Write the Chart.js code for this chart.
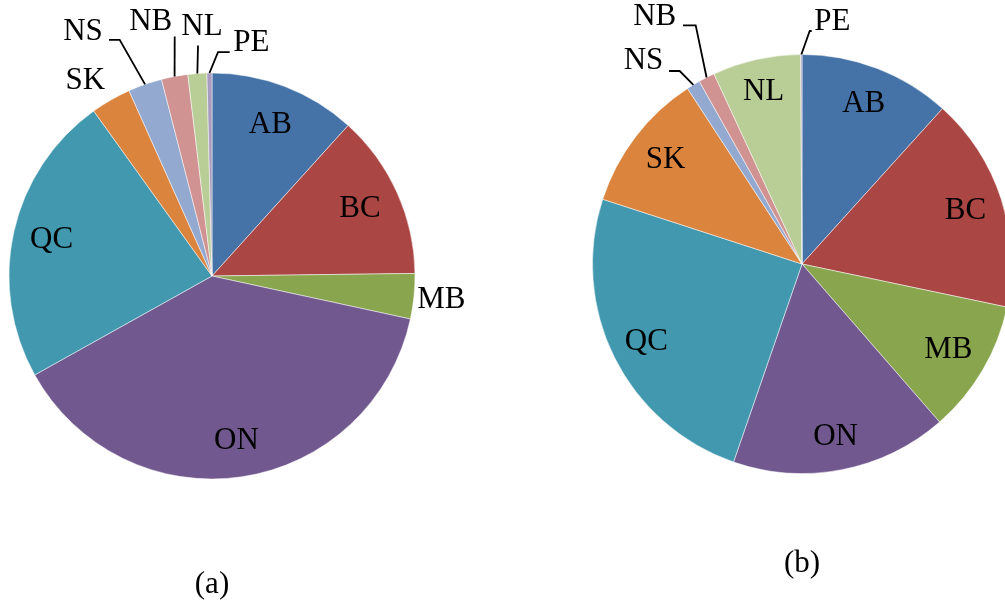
<!DOCTYPE html>
<html>
<head>
<meta charset="utf-8">
<script src="https://cdn.jsdelivr.net/npm/chart.js@4.4.1/dist/chart.umd.min.js"></script>
<style>
  html, body { margin: 0; padding: 0; background: #ffffff; overflow: hidden; width: 1005px; height: 600px; }
  .pie { position: absolute; top: 0; }
  #wrapA { left: 0; width: 500px; height: 600px; }
  #wrapB { left: 500px; width: 604px; height: 600px; }
</style>
</head>
<body>
<div id="wrapA" class="pie"><canvas id="pieA" width="500" height="600"></canvas></div>
<div id="wrapB" class="pie"><canvas id="pieB" width="604" height="600"></canvas></div>
<script>
// Provinces, in slice order (clockwise from 12 o'clock)
const provinces = ['AB', 'BC', 'MB', 'ON', 'QC', 'SK', 'NS', 'NB', 'NL', 'PE'];

// Share of each province (%), panel (a)
const sharesA = [11.7, 13.1, 3.6, 38.5, 23.2, 3.2, 2.7, 2.1, 1.5, 0.4];

// Share of each province (%), panel (b)
const sharesB = [11.7, 16.6, 10.3, 16.7, 24.7, 10.8, 1.05, 1.25, 6.8, 0.1];

// Panel captions
const captions = ['(a)', '(b)'];

const sliceColors = ['#4572A7', '#AA4643', '#89A54E', '#71588F', '#4198AF',
                     '#DB843D', '#93A9CF', '#D19392', '#B9CD96', '#A99BBD'];

const labelFont = '31px "Liberation Serif", "Times New Roman", serif';

// Label placement: 'in' labels sit on the slice bisector at k * radius;
// the others are offset from the pie centre, optionally with a leader line
// whose last point is the slice's outer edge at its bisector.
const labelLayoutA = {
  AB: { k: 0.80 }, BC: { k: 0.80 }, ON: { k: 0.82 }, QC: { k: 0.81 },
  MB: { dx: 229.4, dy: 23.8 },
  SK: { dx: -126.6, dy: -195.5 },
  NS: { dx: -129, dy: -243.8, leader: [[-103, -236.2], [-92.3, -236.2]] },
  NB: { dx: -61.3, dy: -253.8, leader: [[-37.3, -239.5]] },
  NL: { dx: -10, dy: -248.8, leader: [[-14, -230.5]] },
  PE: { dx: 39.4, dy: -232.8, leader: [[17.7, -223.8], [6, -223.8]] }
};
const labelLayoutB = {
  AB: { k: 0.82 }, BC: { k: 0.82 }, MB: { k: 0.81 }, ON: { k: 0.84 },
  QC: { k: 0.83 }, SK: { k: 0.82 }, NL: { k: 0.84 },
  NS: { dx: -158.5, dy: -203.4, leader: [[-133, -193], [-122.3, -193]] },
  NB: { dx: -147.3, dy: -247, leader: [[-119, -238.7], [-106.3, -238.7]] },
  PE: { dx: 30.4, dy: -242, leader: [[9.7, -233], [7.7, -233]] }
};

const sliceLabels = {
  id: 'sliceLabels',
  afterDatasetsDraw(chart, args, opts) {
    const ctx = chart.ctx;
    const meta = chart.getDatasetMeta(0);
    const labels = chart.data.labels;
    ctx.save();
    ctx.font = labelFont;
    ctx.fillStyle = '#000000';
    ctx.textAlign = 'center';
    ctx.textBaseline = 'middle';
    ctx.strokeStyle = '#000000';
    ctx.lineWidth = 1.8;
    meta.data.forEach((arc, i) => {
      const p = arc.getProps(['x', 'y', 'startAngle', 'endAngle', 'outerRadius'], true);
      const mid = (p.startAngle + p.endAngle) / 2;
      const lay = opts.layout[labels[i]];
      if (!lay) return;
      let tx, ty;
      if (lay.k !== undefined) {
        tx = p.x + Math.cos(mid) * p.outerRadius * lay.k;
        ty = p.y + Math.sin(mid) * p.outerRadius * lay.k;
      } else {
        tx = p.x + lay.dx;
        ty = p.y + lay.dy;
      }
      if (lay.leader) {
        ctx.beginPath();
        lay.leader.forEach((pt, j) => {
          const lx = p.x + pt[0], ly = p.y + pt[1];
          if (j === 0) ctx.moveTo(lx, ly); else ctx.lineTo(lx, ly);
        });
        ctx.lineTo(p.x + Math.cos(mid) * p.outerRadius, p.y + Math.sin(mid) * p.outerRadius);
        ctx.stroke();
      }
      ctx.fillText(labels[i], tx, ty);
    });
    // panel caption under the pie
    const c = meta.data[0].getProps(['x', 'y'], true);
    ctx.textBaseline = 'alphabetic';
    ctx.fillText(opts.caption, c.x, c.y + opts.captionDy);
    ctx.restore();
  }
};

function makePie(canvasId, values, radius, padding, layout, caption, captionDy) {
  return new Chart(document.getElementById(canvasId), {
    type: 'pie',
    data: {
      labels: provinces,
      datasets: [{
        data: values,
        backgroundColor: sliceColors,
        borderColor: '#ffffff',
        borderWidth: 0.5,
        hoverOffset: 0,
        radius: radius
      }]
    },
    options: {
      responsive: false,
      animation: false,
      events: [],
      layout: { padding: padding },
      plugins: {
        legend: { display: false },
        tooltip: { enabled: false },
        title: { display: false },
        sliceLabels: { layout: layout, caption: caption, captionDy: captionDy }
      }
    },
    plugins: [sliceLabels]
  });
}

makePie('pieA', sharesA, 203, { left: 0, top: 0, right: 76, bottom: 48 }, labelLayoutA, captions[0], 317.3);
makePie('pieB', sharesB, 209.5, { left: 0, top: 0, right: 0, bottom: 72 }, labelLayoutB, captions[1], 307.8);
</script>
</body>
</html>
